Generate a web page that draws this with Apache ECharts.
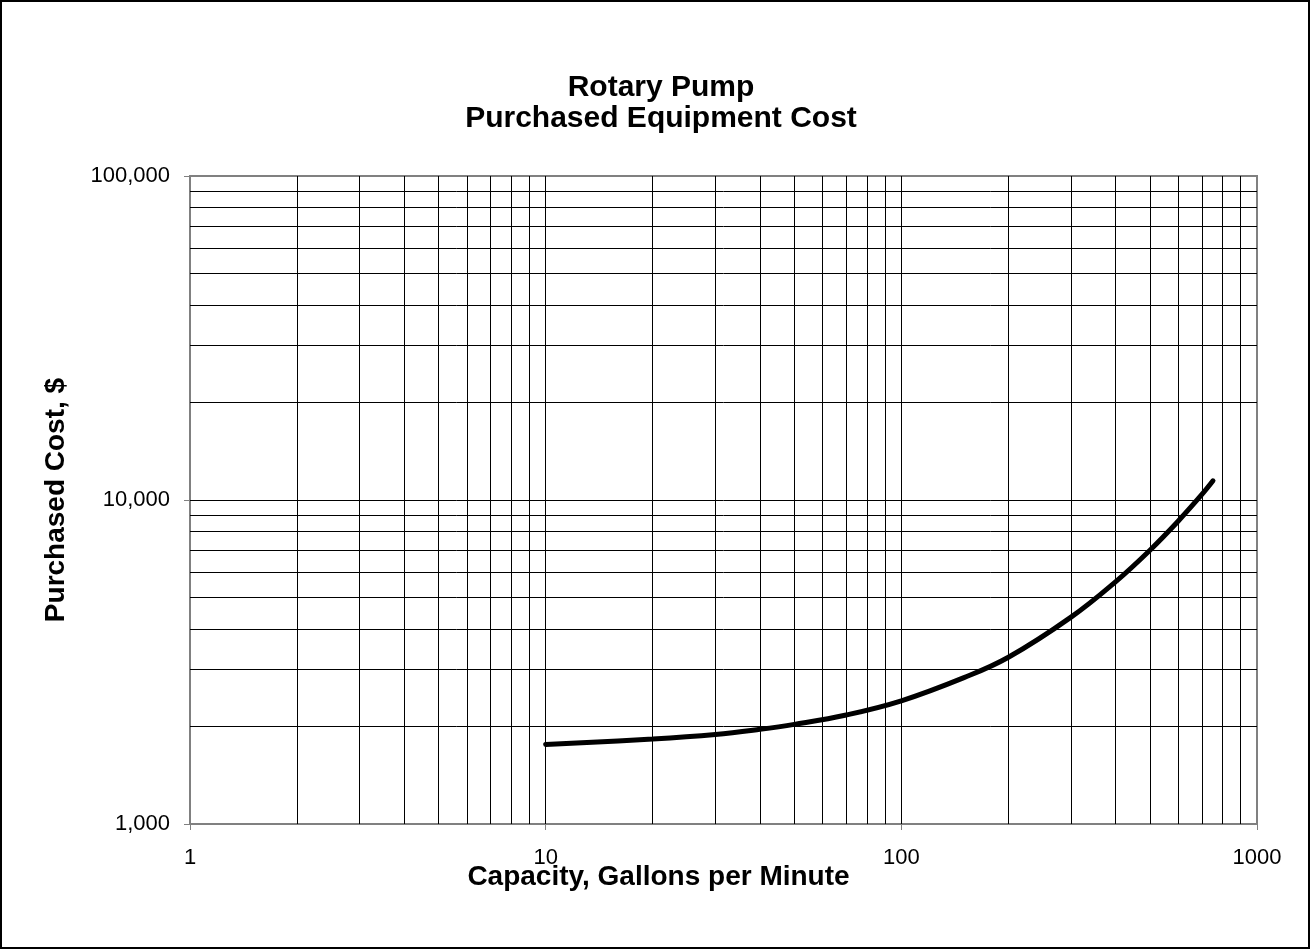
<!DOCTYPE html>
<html>
<head>
<meta charset="utf-8">
<script src="https://cdn.jsdelivr.net/npm/echarts@6/dist/echarts.min.js"></script>
<style>
  html, body { margin: 0; padding: 0; background: #fff; }
  #chart { width: 1311px; height: 950px; }
</style>
</head>
<body>
<div id="chart"></div>
<script>
  // 读图得到的数据（log-log）
  var capacity = [10, 20, 30, 40, 50, 70, 100, 150, 200, 300, 400, 500, 600, 700, 752];
  var cost = [1760, 1830, 1890, 1960, 2030, 2170, 2400, 2830, 3270, 4350, 5590, 7000, 8600, 10400, 11460];

  // 网格线位置
  var xGridValues = [2, 3, 4, 5, 6, 7, 8, 9, 10, 20, 30, 40, 50, 60, 70, 80, 90, 100, 200, 300, 400, 500, 600, 700, 800, 900];
  var yGridValues = [2000, 3000, 4000, 5000, 6000, 7000, 8000, 9000, 10000, 20000, 30000, 40000, 50000, 60000, 70000, 80000, 90000];

  var chart = echarts.init(document.getElementById('chart'));

  var gridLines = xGridValues.map(function (v) { return { xAxis: v }; })
      .concat(yGridValues.map(function (v) { return { yAxis: v }; }));

  var boldFont = 'bold 30px "Liberation Sans", Arial, sans-serif';

  var option = {
      backgroundColor: '#fff',
      animation: false,
      textStyle: { fontFamily: 'Liberation Sans, Arial, sans-serif' },
      graphic: [
          {
              type: 'rect',
              shape: { x: 1, y: 1, width: 1308, height: 947 },
              style: { fill: 'none', stroke: '#000', lineWidth: 2 },
              silent: true
          },
          {
              type: 'text',
              x: 661,
              y: 88,
              style: { text: 'Rotary Pump', font: boldFont, fill: '#000', textAlign: 'center', textVerticalAlign: 'middle' }
          },
          {
              type: 'text',
              x: 661,
              y: 119,
              style: { text: 'Purchased Equipment Cost', font: boldFont, fill: '#000', textAlign: 'center', textVerticalAlign: 'middle' }
          }
      ],
      grid: {
          left: 190,
          right: 54,
          top: 176,
          bottom: 126,
          show: true,
          borderColor: '#808080',
          borderWidth: 2
      },
      xAxis: {
          type: 'log',
          logBase: 10,
          min: 1,
          max: 1000,
          name: 'Capacity, Gallons per Minute',
          nameLocation: 'middle',
          nameGap: 39,
          nameMoveOverlap: false,
          nameTextStyle: { fontSize: 28, fontWeight: 'bold', color: '#000', padding: [0, 130, 0, 0] },
          axisLine: { lineStyle: { color: '#808080', width: 2 } },
          axisTick: { length: 6, lineStyle: { color: '#808080', width: 1 } },
          axisLabel: {
              fontSize: 22,
              color: '#000',
              margin: 23,
              formatter: function (v) { return String(Math.round(v)); }
          },
          splitLine: { show: false }
      },
      yAxis: {
          type: 'log',
          logBase: 10,
          min: 1000,
          max: 100000,
          name: 'Purchased Cost, $',
          nameLocation: 'middle',
          nameGap: 120,
          nameMoveOverlap: false,
          nameTextStyle: { fontSize: 28, fontWeight: 'bold', color: '#000' },
          axisLine: { lineStyle: { color: '#808080', width: 2 } },
          axisTick: { length: 6, lineStyle: { color: '#808080', width: 1 } },
          axisLabel: {
              fontSize: 22,
              color: '#000',
              margin: 20,
              formatter: function (v) { return Math.round(v).toLocaleString('en-US'); }
          },
          splitLine: { show: false }
      },
      series: [
          {
              name: 'grid',
              type: 'line',
              data: [],
              z: 1,
              silent: true,
              markLine: {
                  silent: true,
                  symbol: ['none', 'none'],
                  label: { show: false },
                  lineStyle: { color: '#000', width: 1, type: 'solid' },
                  emphasis: { disabled: true },
                  data: gridLines
              }
          },
          {
              name: 'Cost',
              type: 'line',
              z: 5,
              smooth: 0.4,
              showSymbol: false,
              lineStyle: { color: '#000', width: 5, cap: 'round' },
              data: capacity.map(function (c, i) { return [c, cost[i]]; })
          }
      ]
  };

  chart.setOption(option);
</script>
</body>
</html>
